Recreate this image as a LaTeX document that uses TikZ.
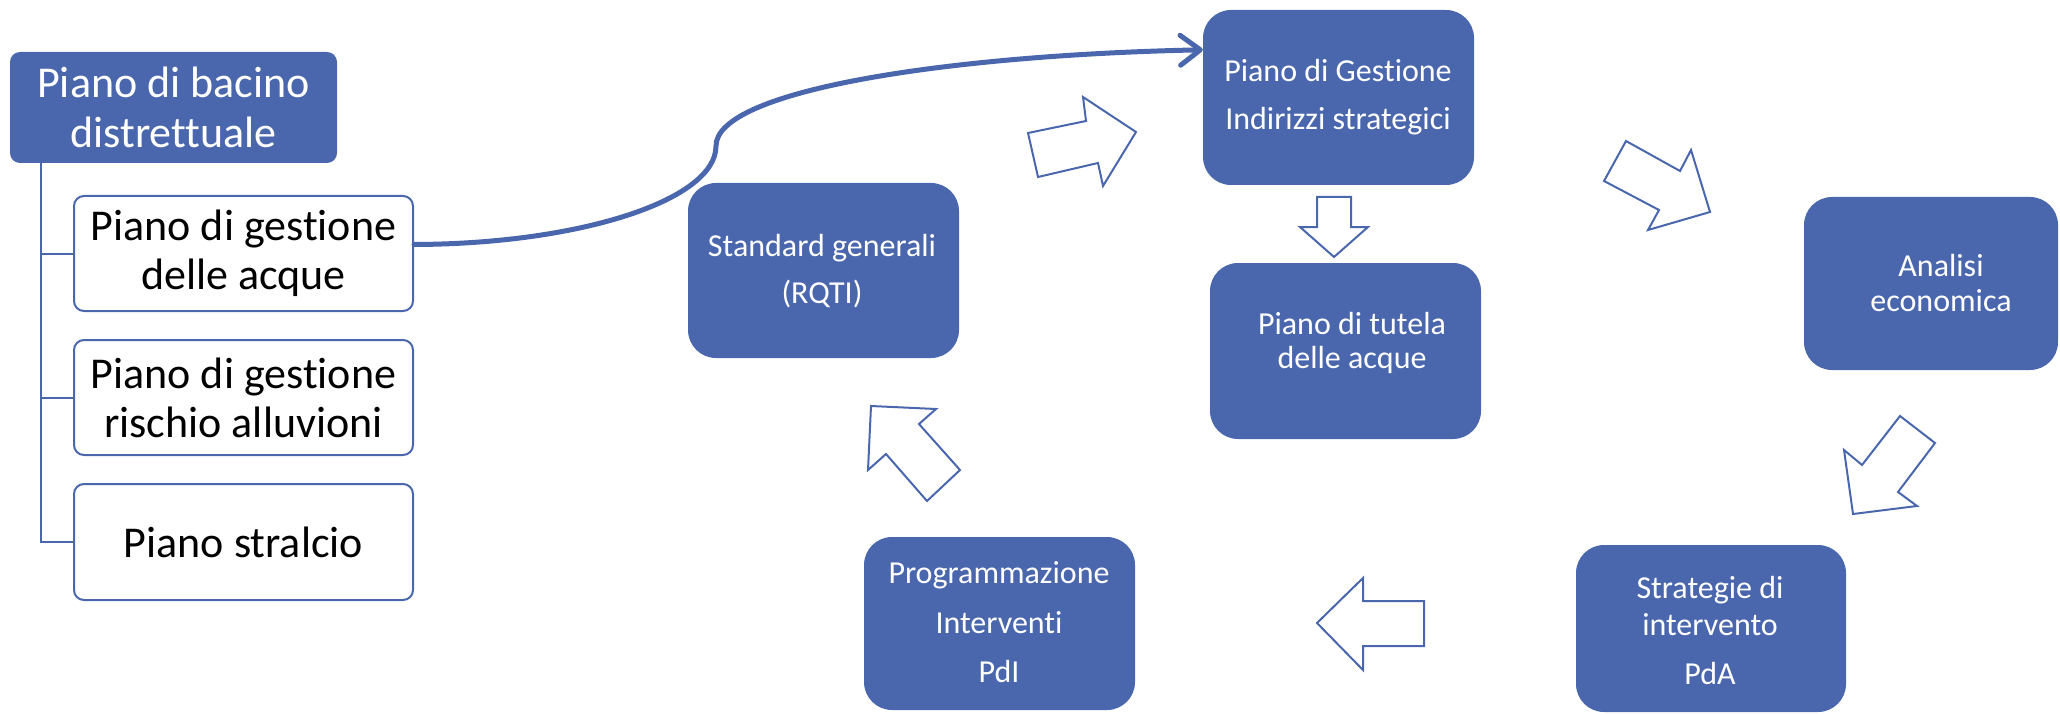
\documentclass[tikz,border=0pt]{standalone}
\usepackage{fontspec}
\setmainfont[Ligatures={NoCommon}]{Carlito}
\usetikzlibrary{arrows.meta,calc}
\definecolor{pblue}{HTML}{4A67AE}
\begin{document}
\begin{tikzpicture}[x=1pt,y=-1pt,
 solidbox/.style={fill=pblue, draw=none, rounded corners=28pt, inner sep=0pt},
 headbox/.style={fill=pblue, draw=none, rounded corners=10pt, inner sep=0pt, text=white, align=center, font=\fontsize{44}{50}\selectfont},
 childbox/.style={fill=white, draw=pblue, line width=2pt, rounded corners=10pt, inner sep=0pt, align=center, font=\fontsize{44}{49}\selectfont},
 wtxt/.style={text=white, anchor=base, inner sep=0pt, font=\fontsize{32}{34}\selectfont},
 blockarrow/.style={draw=pblue, fill=white, line width=2pt, line join=miter},
 tree/.style={draw=pblue, line width=2pt},
 flow/.style={draw=pblue, line width=5pt, line cap=round, -{Straight Barb[length=20pt,width=30pt,round]}}
]
\useasboundingbox (0,0) rectangle (2060,714);

% left hierarchy
\node[headbox, minimum width=327pt, minimum height=111pt] (par) at (173.5,107.5) {Piano di bacino\\distrettuale};
\node[childbox, minimum width=339pt, minimum height=115pt] (c1) at (243.5,253.5) {Piano di gestione\\delle acque};
\node[childbox, minimum width=339pt, minimum height=115pt] (c2) at (243.5,397.5) {Piano di gestione\\rischio alluvioni};
\node[childbox, minimum width=339pt, minimum height=116pt] (c3) at (243.5,542) {Piano stralcio};
\coordinate (trunk) at ([xshift=31pt]par.south west);
\draw[tree] (trunk) |- (c3.west);
\draw[tree] (trunk |- c1.west) -- (c1.west);
\draw[tree] (trunk |- c2.west) -- (c2.west);

% cycle boxes
\node[solidbox, minimum width=271pt, minimum height=175pt] (pg) at (1338.5,97.5) {};
\node[wtxt] (pg1) at (1338,82) {Piano di Gestione};
\node[wtxt] (pg2) at (1338,130) {Indirizzi strategici};

\node[solidbox, minimum width=271pt, minimum height=176pt] (pt) at (1345.5,351) {};
\node[wtxt] (pt1) at (1352,334) {Piano di tutela};
\node[wtxt] (pt2) at (1352,368) {delle acque};

\node[solidbox, minimum width=254pt, minimum height=173pt] (ae) at (1931,283.5) {};
\node[wtxt] (ae1) at (1941,276) {Analisi};
\node[wtxt] (ae2) at (1941,311) {economica};

\node[solidbox, minimum width=270pt, minimum height=167pt] (si) at (1711,628.5) {};
\node[wtxt] (si1) at (1710,598) {Strategie di};
\node[wtxt] (si2) at (1710,635) {intervento};
\node[wtxt] (si3) at (1710,684) {PdA};

\node[solidbox, minimum width=271pt, minimum height=173pt] (pi) at (999.5,623.5) {};
\node[wtxt] (pi1) at (999,583) {Programmazione};
\node[wtxt] (pi2) at (999,633) {Interventi};
\node[wtxt] (pi3) at (999,682) {PdI};

\node[solidbox, minimum width=271pt, minimum height=175pt] (sg) at (823.5,270.5) {};
\node[wtxt] (sg1) at (822,256) {Standard generali};
\node[wtxt] (sg2) at (822,303) {(RQTI)};

% block arrows
\draw[blockarrow] (1317,197) -- (1351,197) -- (1351,227) -- (1368,227) -- (1334,257) -- (1300,227) -- (1317,227) -- cycle;
\draw[blockarrow] (1028,133) -- (1086,121) -- (1083,97) -- (1136,132) -- (1103,186) -- (1098,163) -- (1038,177) -- cycle;
\draw[blockarrow] (1626,141) -- (1680,171) -- (1691,150) -- (1710,212) -- (1648,230) -- (1659,210) -- (1604,181) -- cycle;
\draw[blockarrow] (1900,416) -- (1935,443) -- (1898,492) -- (1917,506) -- (1853,514) -- (1844,450) -- (1862,465) -- cycle;
\draw[blockarrow] (1317,623) -- (1363,578) -- (1363,601) -- (1424,601) -- (1424,646) -- (1363,646) -- (1363,670) -- cycle;
\draw[blockarrow] (871,406) -- (936,409) -- (919,424) -- (960,470) -- (927,501) -- (886,454) -- (868,470) -- cycle;

% curved connector
\coordinate (cs) at ([yshift=9pt]c1.east);
\coordinate (cm) at (716,146);
\coordinate (ce) at ([yshift=-40pt]pg.north west);
\draw[flow] (cs) .. controls (580,244) and (716,200) .. (cm) .. controls (716,90) and (950,55) .. (ce);
\end{tikzpicture}
\end{document}
